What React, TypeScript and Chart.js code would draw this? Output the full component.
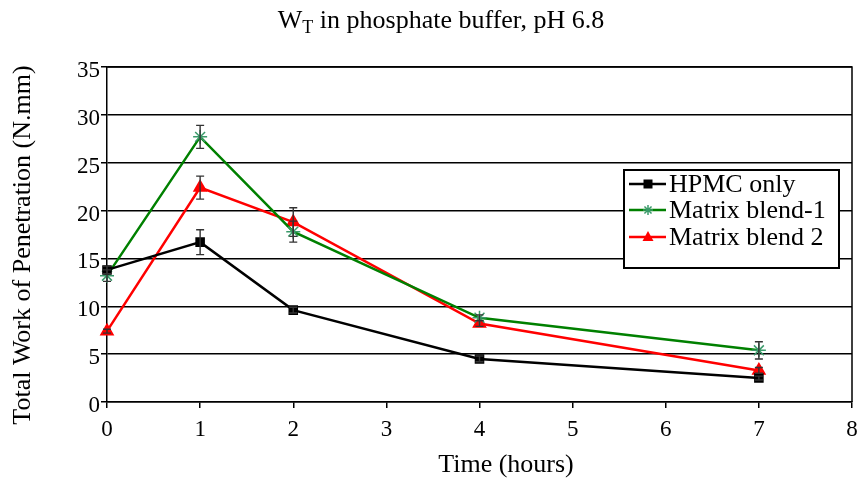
import React, { useEffect, useRef } from "react";
import { Chart, registerables } from "chart.js";

Chart.register(...registerables);

const times = [0, 1, 2, 4, 7];
const hpmc = [13.8, 16.7, 9.6, 4.5, 2.5];
const hpmcErr = [0.4, 1.3, 0.3, 0.3, 0.2];
const blend1 = [13.2, 27.7, 17.8, 8.8, 5.4];
const blend1Err = [0.6, 1.2, 1.1, 0.3, 0.9];
const blend2 = [7.4, 22.4, 18.8, 8.2, 3.3];
const blend2Err = [0.2, 1.2, 1.5, 0.3, 0.3];
const seriesNames = ["HPMC only", "Matrix blend-1", "Matrix blend 2"];
const titleMain = "W";
const titleSub = "T";
const titleRest = " in phosphate buffer, pH 6.8";
const xTitle = "Time (hours)";
const yTitle = "Total Work of Penetration (N.mm)";

const SERIF = '"Liberation Serif", "Times New Roman", serif';

const errs = [hpmcErr, blend1Err, blend2Err];

const decorPlugin = {
  id: "decor",
  afterDatasetsDraw(chart: any) {
    const ctx = chart.ctx;
    const ys = chart.scales.y;
    chart.data.datasets.forEach((ds: any, di: number) => {
      const meta = chart.getDatasetMeta(di);
      meta.data.forEach((pt: any, i: number) => {
        const v = ds.data[i].y;
        const e = errs[di][i];
        const y1 = ys.getPixelForValue(v + e);
        const y2 = ys.getPixelForValue(v - e);
        ctx.save();
        ctx.strokeStyle = "#333";
        ctx.lineWidth = 1.4;
        ctx.beginPath();
        ctx.moveTo(pt.x, y1);
        ctx.lineTo(pt.x, y2);
        ctx.moveTo(pt.x - 4, y1);
        ctx.lineTo(pt.x + 4, y1);
        ctx.moveTo(pt.x - 4, y2);
        ctx.lineTo(pt.x + 4, y2);
        ctx.stroke();
        ctx.restore();
      });
    });
  },
  afterDraw(chart: any) {
    const ctx = chart.ctx;
    const a = chart.chartArea;
    ctx.save();
    ctx.strokeStyle = "#000";
    ctx.lineWidth = 1.5;
    ctx.beginPath();
    ctx.moveTo(a.left, a.top);
    ctx.lineTo(a.right, a.top);
    ctx.lineTo(a.right, a.bottom);
    ctx.stroke();

    // title
    ctx.fillStyle = "#000";
    ctx.textBaseline = "alphabetic";
    ctx.font = `26px ${SERIF}`;
    const wMain = ctx.measureText(titleMain).width;
    const wRest = ctx.measureText(titleRest).width;
    ctx.font = `18px ${SERIF}`;
    const wSub = ctx.measureText(titleSub).width;
    const total = wMain + wSub + wRest;
    let x = 441 - total / 2;
    const base = 28;
    ctx.font = `26px ${SERIF}`;
    ctx.textAlign = "left";
    ctx.fillText(titleMain, x, base);
    x += wMain;
    ctx.font = `18px ${SERIF}`;
    ctx.fillText(titleSub, x, base + 5);
    x += wSub;
    ctx.font = `26px ${SERIF}`;
    ctx.fillText(titleRest, x, base);

    // x title
    ctx.textAlign = "center";
    ctx.font = `26px ${SERIF}`;
    ctx.fillText(xTitle, 506, 472);

    // y title
    ctx.save();
    ctx.translate(30, 245);
    ctx.rotate(-Math.PI / 2);
    ctx.textAlign = "center";
    ctx.fillText(yTitle, 0, 0);
    ctx.restore();

    // legend
    const lx = 624, ly = 170, lw = 215, lh = 98;
    ctx.fillStyle = "#fff";
    ctx.fillRect(lx, ly, lw, lh);
    ctx.strokeStyle = "#000";
    ctx.lineWidth = 2;
    ctx.strokeRect(lx, ly, lw, lh);
    const rows = [184, 210, 237];
    chart.data.datasets.forEach((ds: any, di: number) => {
      const ry = rows[di];
      ctx.strokeStyle = ds.borderColor;
      ctx.lineWidth = 2.5;
      ctx.beginPath();
      ctx.moveTo(629, ry);
      ctx.lineTo(666, ry);
      ctx.stroke();
      const style = ds.pointStyle;
      ctx.fillStyle = ds.pointBackgroundColor;
      ctx.strokeStyle = ds.pointBorderColor;
      ctx.lineWidth = 1.5;
      const cx = 648;
      if (style === "rect") {
        ctx.fillRect(cx - 4.5, ry - 4.5, 9, 9);
      } else if (style === "triangle") {
        ctx.beginPath();
        ctx.moveTo(cx, ry - 6);
        ctx.lineTo(cx + 5.5, ry + 4);
        ctx.lineTo(cx - 5.5, ry + 4);
        ctx.closePath();
        ctx.fill();
      } else {
        ctx.beginPath();
        const r = 5;
        for (let k = 0; k < 4; k++) {
          const ang = (k * Math.PI) / 4;
          ctx.moveTo(cx + r * Math.cos(ang), ry + r * Math.sin(ang));
          ctx.lineTo(cx - r * Math.cos(ang), ry - r * Math.sin(ang));
        }
        ctx.stroke();
      }
      ctx.fillStyle = "#000";
      ctx.textAlign = "left";
      ctx.textBaseline = "middle";
      ctx.font = `26px ${SERIF}`;
      ctx.fillText(seriesNames[di], 669, ry + 1);
    });
    ctx.restore();
  },
};

export default function App() {
  const ref = useRef<HTMLCanvasElement>(null);
  useEffect(() => {
    document.body.style.margin = "0";
    const mk = (arr: number[]) => arr.map((v, i) => ({ x: times[i], y: v }));
    const chart = new Chart(ref.current as HTMLCanvasElement, {
      type: "line",
      data: {
        datasets: [
          {
            label: seriesNames[0],
            data: mk(hpmc),
            borderColor: "#000000",
            backgroundColor: "#000000",
            pointBackgroundColor: "#000000",
            pointBorderColor: "#000000",
            pointStyle: "rect",
            pointRadius: 5,
            borderWidth: 2.5,
            clip: false,
          } as any,
          {
            label: seriesNames[1],
            data: mk(blend1),
            borderColor: "#008000",
            backgroundColor: "#2e8b57",
            pointBackgroundColor: "#2e8b57",
            pointBorderColor: "#3a9a6a",
            pointStyle: "star",
            pointRadius: 7,
            pointBorderWidth: 1.5,
            borderWidth: 2.5,
            clip: false,
          } as any,
          {
            label: seriesNames[2],
            data: mk(blend2),
            borderColor: "#ff0000",
            backgroundColor: "#ff0000",
            pointBackgroundColor: "#ff0000",
            pointBorderColor: "#ff0000",
            pointStyle: "triangle",
            pointRadius: 6,
            borderWidth: 2.5,
            clip: false,
          } as any,
        ],
      },
      options: {
        responsive: false,
        animation: false,
        layout: { padding: { left: 0, top: 67, right: 10, bottom: 0 } },
        plugins: {
          legend: { display: false },
          title: { display: false },
          tooltip: { enabled: false },
        },
        scales: {
          x: {
            type: "linear",
            min: 0,
            max: 8,
            afterFit: (s: any) => {
              s.height = 77;
              s.paddingRight = 0;
              s.paddingLeft = 0;
            },
            ticks: {
              stepSize: 1,
              color: "#000",
              font: { family: SERIF, size: 23 },
              padding: 8,
            },
            grid: {
              drawOnChartArea: false,
              drawTicks: true,
              tickLength: 6,
              color: "#000",
              lineWidth: 1.5,
            },
            border: { display: true, color: "#000", width: 1.5 },
          },
          y: {
            min: 0,
            max: 35,
            afterFit: (s: any) => {
              s.width = 107;
              s.paddingTop = 0;
              s.paddingBottom = 0;
            },
            ticks: {
              stepSize: 5,
              color: "#000",
              font: { family: SERIF, size: 23 },
              padding: 1,
              labelOffset: 4,
            },
            grid: {
              color: "#000",
              lineWidth: 1.5,
              tickLength: 6,
            },
            border: { display: true, color: "#000", width: 1.5 },
          },
        },
      },
      plugins: [decorPlugin],
    });
    return () => chart.destroy();
  }, []);
  return (
    <div style={{ width: 862, height: 479 }}>
      <canvas ref={ref} width={862} height={479} />
    </div>
  );
}
